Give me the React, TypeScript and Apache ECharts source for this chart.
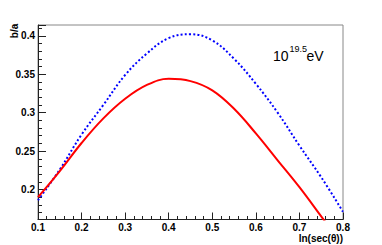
import React, { useEffect, useRef } from "react";
import * as echarts from "echarts";

const xValues = [0.1, 0.15, 0.2, 0.25, 0.3, 0.35, 0.4, 0.45, 0.5, 0.55, 0.6, 0.65, 0.7, 0.75, 0.8];
const blueValues = [0.186, 0.226, 0.2715, 0.31, 0.349, 0.377, 0.397, 0.402, 0.394, 0.37, 0.3375, 0.3, 0.257, 0.216, 0.171];
const redValues = [0.19, 0.224, 0.2605, 0.2925, 0.318, 0.336, 0.344, 0.341, 0.329, 0.305, 0.273, 0.238, 0.203, 0.165, 0.127];

const xTitle = "ln(sec(θ))";
const yTitle = "b/a";

export default function App() {
  const ref = useRef<HTMLDivElement>(null);
  useEffect(() => {
    document.body.style.margin = "0";
    const chart = echarts.init(ref.current!, null, { renderer: "svg" });
    const labelStyle = {
      color: "#000",
      fontFamily: "Liberation Sans",
      fontWeight: "bold" as const,
      fontSize: 10,
      lineHeight: 10,
    };
    chart.setOption({
      animation: false,
      backgroundColor: "#fff",
      grid: {
        left: 38,
        top: 25,
        width: 305,
        height: 194.5,
        show: true,
        borderColor: "#888",
        borderWidth: 1,
        outerBoundsMode: "none",
      },
      xAxis: {
        type: "value",
        min: 0.1,
        max: 0.8,
        interval: 0.1,
        axisLine: { show: true, lineStyle: { color: "#222", width: 1 } },
        axisTick: { show: true, inside: true, length: 7, lineStyle: { color: "#222" } },
        minorTick: { show: true, splitNumber: 5, length: 3.5, lineStyle: { color: "#222" } },
        splitLine: { show: false },
        axisLabel: {
          ...labelStyle,
          margin: 2.5,
          showMinLabel: true,
          showMaxLabel: true,
          formatter: (v: number) => v.toFixed(1),
        },
      },
      yAxis: {
        type: "value",
        min: 0.161,
        max: 0.414,
        splitNumber: 5,
        minInterval: 0.05,
        maxInterval: 0.05,
        axisLine: { show: true, lineStyle: { color: "#222", width: 1 } },
        axisTick: { show: true, inside: true, length: 8, lineStyle: { color: "#222" } },
        minorTick: { show: true, splitNumber: 5, length: 4, lineStyle: { color: "#222" } },
        splitLine: { show: false },
        axisLabel: {
          ...labelStyle,
          margin: 3,
          showMinLabel: false,
          showMaxLabel: false,
        },
      },
      graphic: [
        {
          type: "text",
          x: 14,
          y: 31,
          rotation: Math.PI / 2,
          style: {
            text: yTitle,
            fill: "#000",
            font: "bold 10px 'Liberation Sans'",
            lineHeight: 10,
            align: "center",
            verticalAlign: "middle",
          },
        },
        {
          type: "text",
          x: 343,
          y: 238,
          style: {
            text: xTitle,
            fill: "#000",
            font: "bold 10px 'Liberation Sans'",
            lineHeight: 10,
            align: "right",
            verticalAlign: "middle",
          },
        },
        {
          type: "text",
          x: 273,
          y: 56,
          style: {
            text: "10",
            fill: "#000",
            font: "14px 'Liberation Sans'",
            align: "left",
            verticalAlign: "middle",
          },
        },
        {
          type: "text",
          x: 289.5,
          y: 48.5,
          style: {
            text: "19.5",
            fill: "#000",
            font: "9px 'Liberation Sans'",
            align: "left",
            verticalAlign: "middle",
          },
        },
        {
          type: "text",
          x: 306.5,
          y: 56,
          style: {
            text: "eV",
            fill: "#000",
            font: "14px 'Liberation Sans'",
            align: "left",
            verticalAlign: "middle",
          },
        },
      ],
      series: [
        {
          type: "line",
          data: xValues.map((x, i) => [x, blueValues[i]]),
          showSymbol: false,
          symbol: "none",
          smooth: 0.4,
          clip: true,
          lineStyle: { color: "#0000ff", width: 2, type: [2, 2.2], cap: "butt" },
        },
        {
          type: "line",
          data: xValues.map((x, i) => [x, redValues[i]]),
          showSymbol: false,
          symbol: "none",
          smooth: 0.4,
          clip: true,
          lineStyle: { color: "#ff0000", width: 2 },
        },
      ],
    });
    return () => chart.dispose();
  }, []);
  return <div ref={ref} style={{ width: 382, height: 245 }} />;
}
